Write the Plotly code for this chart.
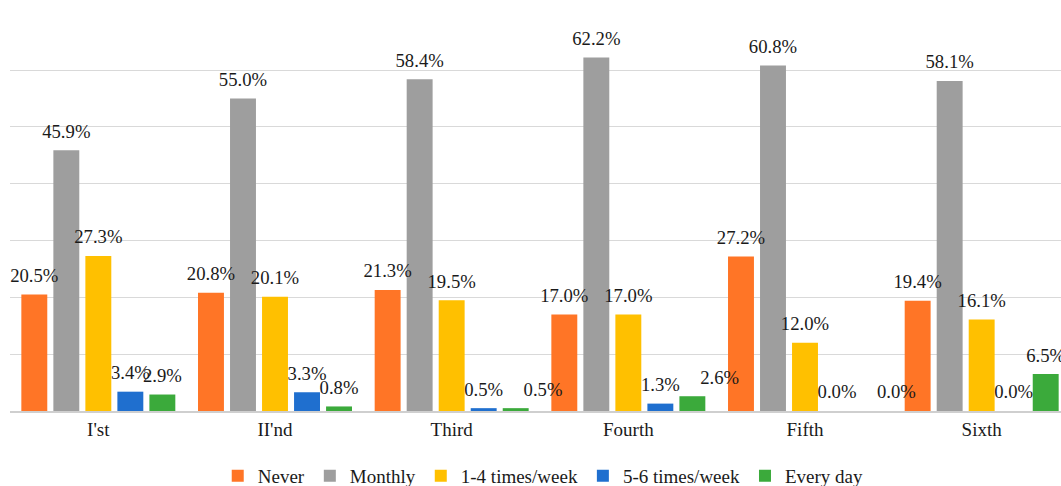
import plotly.graph_objects as go

categories = ["I'st", "II'nd", "Third", "Fourth", "Fifth", "Sixth"]
series_names = ["Never", "Monthly", "1-4 times/week", "5-6 times/week", "Every day"]
never = [20.5, 20.8, 21.3, 17.0, 27.2, 19.4]
monthly = [45.9, 55.0, 58.4, 62.2, 60.8, 58.1]
times_1_4 = [27.3, 20.1, 19.5, 17.0, 12.0, 16.1]
times_5_6 = [3.4, 3.3, 0.5, 1.3, 0.0, 0.0]
every_day = [2.9, 0.8, 0.5, 2.6, 0.0, 6.5]

colors = ["#FF7526", "#9E9E9E", "#FFC000", "#1F6FCF", "#3BAA3B"]
values = [never, monthly, times_1_4, times_5_6, every_day]

font_family = "Liberation Serif"
txt_color = "#1a1a1a"

fig = go.Figure()
for si, (name, vals, col) in enumerate(zip(series_names, values, colors)):
    fig.add_trace(go.Bar(
        x=categories, y=vals, name=name,
        marker=dict(color=col, line=dict(width=0)),
        offsetgroup=str(si), hoverinfo="skip",
    ))

for si, (name, vals) in enumerate(zip(series_names, values)):
    positions = ["top center"] * len(vals)
    if si == 4:
        # Every day labels that would collide are nudged to the right, as in the reference
        for k in (2, 3, 4):
            positions[k] = "top right"
    fig.add_trace(go.Scatter(
        x=categories, y=vals, mode="markers+text",
        text=[f"{v:.1f}%" for v in vals], textposition=positions,
        marker=dict(size=11, color="rgba(0,0,0,0)"),
        textfont=dict(family=font_family, size=18.7, color=txt_color),
        offsetgroup=str(si), showlegend=False, cliponaxis=False, hoverinfo="skip",
    ))

fig.update_layout(
    width=1061, height=486,
    margin=dict(l=10, r=0, t=13, b=75),
    paper_bgcolor="white", plot_bgcolor="white",
    barmode="group", bargap=0.094, bargroupgap=0.19,
    scattermode="group", scattergap=0.094,
    font=dict(family=font_family, size=19, color=txt_color),
    showlegend=True,
    legend=dict(orientation="h", xref="container", yref="container",
                x=0.512, xanchor="center", y=0.0206, yanchor="middle",
                font=dict(family=font_family, size=19, color=txt_color),
                itemwidth=30, traceorder="normal"),
    xaxis=dict(range=[-0.5, 5.449], showline=True, linecolor="#CFCFCF", linewidth=2,
               ticks="", showgrid=False, tickfont=dict(family=font_family, size=19, color=txt_color)),
    yaxis=dict(range=[0, 70.05], dtick=10, showgrid=True, gridcolor="#D9D9D9", gridwidth=1,
               showticklabels=False, zeroline=False, ticks=""),
)

fig.write_html("out.html", config={"displayModeBar": False},
               post_script="document.body.style.margin='0';document.body.style.overflow='hidden';")
